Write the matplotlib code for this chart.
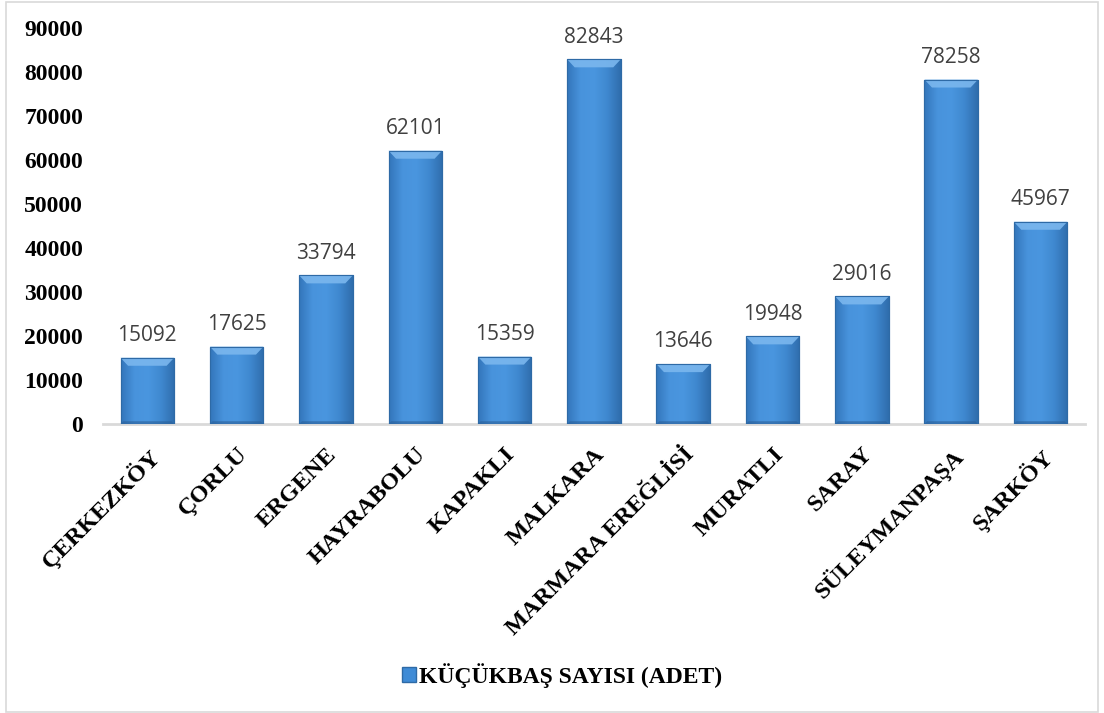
import numpy as np
import matplotlib
matplotlib.use("Agg")
import matplotlib.pyplot as plt
from matplotlib.patches import Rectangle
from matplotlib.colors import LinearSegmentedColormap

districts = ["ÇERKEZKÖY", "ÇORLU", "ERGENE", "HAYRABOLU", "KAPAKLI", "MALKARA",
             "MARMARA EREĞLİSİ", "MURATLI", "SARAY", "SÜLEYMANPAŞA", "ŞARKÖY"]
counts = [15092, 17625, 33794, 62101, 15359, 82843, 13646, 19948, 29016, 78258, 45967]
series_name = "KÜÇÜKBAŞ SAYISI (ADET)"
y_ticks = [0, 10000, 20000, 30000, 40000, 50000, 60000, 70000, 80000, 90000]

serif_bold = dict(family="Liberation Serif", fontweight="bold")

fig = plt.figure(figsize=(11.04, 7.13), dpi=100)
fig.patch.set_facecolor("white")
# outer chart frame
fig.add_artist(Rectangle((0.005, 0.002), 0.99, 0.995, transform=fig.transFigure,
                         fill=False, edgecolor="#D9D9D9", linewidth=1.2))

ax = fig.add_axes([0.093, 0.405, 0.890, 0.556])
x = np.arange(len(districts))
bar_w = 0.6
bars = ax.bar(x, counts, width=bar_w, color="#3F8BD6", edgecolor="#2E6AA6",
              linewidth=0.8, zorder=2, label=series_name)

# horizontal shading across each bar (lighter centre, darker sides)
shade = LinearSegmentedColormap.from_list(
    "shade", ["#3375BA", "#4893DC", "#4A96DF", "#3F88CF", "#2F6DAC"])
grad = np.linspace(0, 1, 256).reshape(1, -1)
px = 90000 / (0.556 * 713)  # data units per pixel
for b in bars:
    x0, w, h = b.get_x(), b.get_width(), b.get_height()
    im = ax.imshow(grad, cmap=shade, aspect="auto", extent=(x0, x0 + w, 0, h),
                   zorder=2.1, interpolation="bicubic")
    im.set_clip_path(b)
    # lighter bevel along the top
    bevel = h - 8 * px
    ax.fill([x0, x0 + w, x0 + w * 0.86, x0 + w * 0.14],
            [h, h, bevel, bevel], color="#7BB7EE", alpha=0.9, zorder=2.2, lw=0)
    # darker strip at the foot
    ax.fill([x0, x0 + w, x0 + w * 0.95, x0 + w * 0.05],
            [0, 0, 3 * px, 3 * px], color="#2A5F98", alpha=0.6, zorder=2.2, lw=0)
    ax.add_patch(Rectangle((x0, 0), w, h, fill=False, edgecolor="#2E6AA6",
                           linewidth=0.8, zorder=2.3))

for xi, v in zip(x, counts):
    ax.annotate(f"{v}", (xi, v), xytext=(0, 12), textcoords="offset points",
                ha="center", va="baseline", fontsize=15,
                family="Open Sans", color="#404040")

ax.set_xlim(-0.5, len(districts) - 0.5)
ax.set_ylim(0, 90000)
ax.set_yticks(y_ticks)
ax.set_yticklabels([str(t) for t in y_ticks], fontsize=17, **serif_bold)
ax.tick_params(axis="y", length=0, pad=14)
ax.set_xticks(x)
ax.set_xticklabels(districts, rotation=45, ha="right", rotation_mode="anchor",
                   fontsize=17.5, **serif_bold)
ax.tick_params(axis="x", length=0, pad=14)

for s in ["top", "right", "left"]:
    ax.spines[s].set_visible(False)
ax.spines["bottom"].set_color("#D9D9D9")
ax.spines["bottom"].set_linewidth(2)
ax.spines["bottom"].set_zorder(1)

leg = fig.legend(handles=[Rectangle((0, 0), 1, 1, facecolor="#3F8BD6",
                                    edgecolor="#2E6AA6")],
                 labels=[series_name], loc="center", bbox_to_anchor=(0.509, 0.053),
                 frameon=False, handlelength=0.6, handleheight=0.6,
                 handletextpad=0.15, prop=dict(family="Liberation Serif",
                                                weight="bold", size=17))

fig.savefig("out.png", dpi=100)
